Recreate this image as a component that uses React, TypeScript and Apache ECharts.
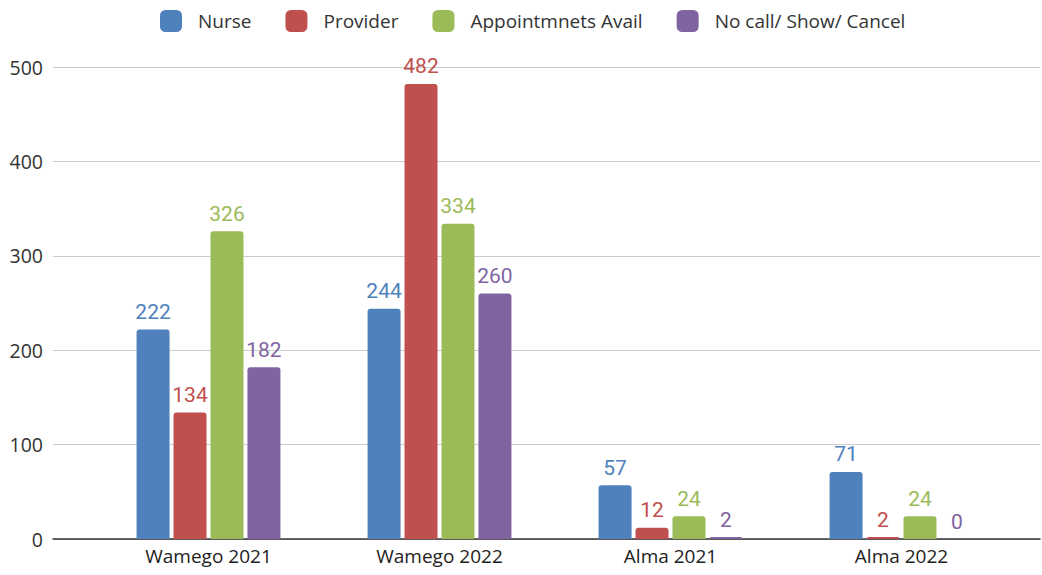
import React, { useEffect, useRef } from "react";
import * as echarts from "echarts";

const categories = ["Wamego 2021", "Wamego 2022", "Alma 2021", "Alma 2022"];
const seriesNames = ["Nurse", "Provider", "Appointmnets Avail", "No call/ Show/ Cancel"];
const nurse = [222, 244, 57, 71];
const provider = [134, 482, 12, 2];
const appointments = [326, 334, 24, 24];
const noCall = [182, 260, 2, 0];
const yTicks = [0, 100, 200, 300, 400, 500];

const colors = ["#4F81BD", "#C0504D", "#9BBB59", "#8064A2"];
const AXIS_FONT = "Open Sans";
const LABEL_FONT = "Roboto";

export default function App() {
  const ref = useRef<HTMLDivElement>(null);
  useEffect(() => {
    if (!ref.current) return;
    const chart = echarts.init(ref.current, null, { renderer: "svg" });
    const values = [nurse, provider, appointments, noCall];
    chart.setOption({
      animation: false,
      textStyle: { fontFamily: AXIS_FONT },
      legend: {
        top: 5,
        left: 155,
        itemWidth: 22,
        itemHeight: 22,
        itemGap: 34,
        icon: "roundRect",
        textStyle: { fontSize: 19, color: "#333", fontFamily: AXIS_FONT, padding: [0, 0, 0, 11] },
        data: seriesNames,
      },
      grid: [
        { left: 53, right: 2, top: 67, bottom: 36 },
        { left: 93, right: 25, top: 67, bottom: 36 },
      ],
      xAxis: [
        {
          type: "category",
          gridIndex: 0,
          data: categories,
          axisLine: { show: true, lineStyle: { color: "#333", width: 1.5 } },
          axisTick: { show: false },
          axisLabel: { show: false },
        },
        {
          type: "category",
          gridIndex: 1,
          data: categories,
          axisLine: { show: false },
          axisTick: { show: false },
          axisLabel: { fontSize: 19, color: "#222", margin: 7, fontFamily: AXIS_FONT },
        },
      ],
      yAxis: [
        {
          type: "value",
          gridIndex: 0,
          min: yTicks[0],
          max: yTicks[yTicks.length - 1],
          interval: 100,
          axisLine: { show: false },
          axisTick: { show: false },
          axisLabel: { fontSize: 19.5, color: "#333", margin: 10, fontFamily: AXIS_FONT },
          splitLine: { lineStyle: { color: "#cccccc", width: 1 } },
        },
        {
          type: "value",
          gridIndex: 1,
          min: yTicks[0],
          max: yTicks[yTicks.length - 1],
          interval: 100,
          show: false,
          splitLine: { show: false },
        },
      ],
      series: seriesNames.map((name, i) => ({
        name,
        type: "bar",
        xAxisIndex: 1,
        yAxisIndex: 1,
        data: values[i],
        barWidth: 33,
        barGap: "12%",
        itemStyle: { color: colors[i], borderRadius: [3, 3, 0, 0] },
        label: {
          show: true,
          position: "top",
          distance: 7,
          fontSize: 21,
          color: colors[i],
          fontFamily: LABEL_FONT,
        },
      })),
    });
    return () => chart.dispose();
  }, []);
  return (
    <div
      ref={ref}
      style={{ position: "fixed", left: 0, top: 0, width: 1042, height: 575, background: "#fff" }}
    />
  );
}
